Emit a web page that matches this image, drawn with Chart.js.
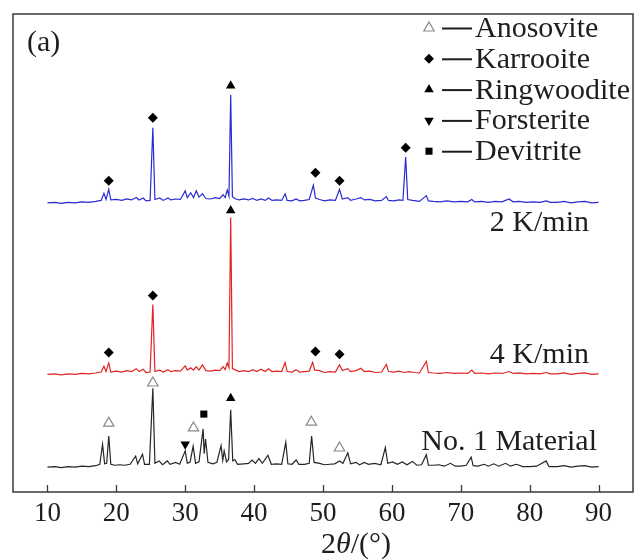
<!DOCTYPE html>
<html>
<head>
<meta charset="utf-8">
<script src="https://cdn.jsdelivr.net/npm/chart.js@4.4.1/dist/chart.umd.min.js"></script>
<style>
html,body{margin:0;padding:0;background:#fff;}
canvas{display:block;}
</style>
</head>
<body>
<canvas id="c" width="634" height="560"></canvas>
<script>
// ---- data (2θ in degrees, intensity in arbitrary offset units) ----
const xTicks = [10, 20, 30, 40, 50, 60, 70, 80, 90];

const patternNo1 = [[10,5.2],[11,5.3],[12,5.1],[13,5.3],[14,5.2],[15,5.4],[16,5.3],[17,5.5],[17.6,5.8],[18.0,10.0],[18.3,5.9],[18.6,6.0],[18.9,11.7],[19.2,5.8],[19.8,5.6],[20.5,5.7],[21.2,5.6],[22,5.8],[22.8,7.5],[23.1,5.9],[23.8,7.9],[24.1,5.8],[24.8,5.8],[25.3,21.7],[25.6,6.0],[26.2,6.5],[26.7,5.7],[27.4,6.5],[27.8,5.8],[28.6,6.2],[29.2,5.8],[30.0,8.6],[30.3,6.0],[30.7,6.2],[31.15,9.6],[31.5,6.0],[32.0,6.3],[32.6,13.2],[32.75,8],[32.95,11.1],[33.3,6.2],[34.0,5.9],[34.6,6.2],[35.2,9.7],[35.45,6.6],[35.65,8.6],[36.0,6.3],[36.3,6.8],[36.6,17.2],[36.9,6.5],[37.2,6.8],[37.6,5.8],[38.5,5.9],[39.2,6.0],[39.7,6.7],[40.2,6.0],[40.7,7.0],[41.2,6.0],[42.0,7.7],[42.5,5.8],[43.3,5.9],[44.0,5.8],[44.6,10.4],[44.9,5.9],[45.5,5.8],[46.1,6.7],[46.5,5.8],[47.3,5.8],[48.0,6.0],[48.35,11.7],[48.7,6.2],[49.5,6.0],[50.2,5.7],[51,5.8],[51.7,5.9],[52.4,6.5],[52.9,6.0],[53.6,8.2],[54.0,5.9],[54.8,6.2],[55.3,5.7],[56.0,6.2],[56.6,5.8],[57.5,6.0],[58.4,5.7],[59.05,9.3],[59.4,6.0],[60.1,6.3],[60.8,5.8],[61.5,6.3],[62.2,5.7],[63.0,6.4],[63.6,5.6],[64.3,5.7],[65.0,7.8],[65.3,5.6],[66,5.6],[66.8,5.7],[67.6,5.4],[68.5,6.0],[69.2,5.4],[70,5.4],[70.8,5.6],[71.5,7.3],[71.8,5.5],[72.5,5.4],[73.4,5.8],[74,5.4],[74.8,5.9],[75.5,5.4],[76.5,6.0],[77.2,5.4],[78.1,5.8],[79,5.3],[80,5.3],[81,5.4],[82.4,6.5],[82.8,5.3],[84,5.3],[85,5.5],[86,5.2],[87,5.4],[88,5.5],[89,5.2],[90,5.3]];

const pattern4K = [[10,24.6],[11,24.7],[12,24.5],[13,24.7],[14,24.6],[15,24.8],[16,24.7],[17,24.9],[17.8,25.1],[18.2,26.3],[18.5,25.2],[18.9,27.0],[19.2,25.1],[20,25.3],[20.8,25.1],[21.5,25.4],[22.2,25.2],[22.9,25.8],[23.3,25.2],[23.9,25.7],[24.3,25.0],[24.9,25.1],[25.3,39.2],[25.6,25.2],[26.3,25.5],[26.8,25.1],[27.5,25.6],[27.9,25.2],[28.6,25.4],[29.3,25.3],[30.0,26.4],[30.3,25.5],[30.8,26.0],[31.2,25.5],[31.6,26.2],[32.0,25.5],[32.5,26.6],[33.0,25.4],[33.7,25.3],[34.4,25.5],[35.0,25.4],[35.5,26.2],[35.8,25.6],[36.1,27.0],[36.35,26.0],[36.6,57.4],[36.85,25.8],[37.2,25.6],[37.8,25.2],[38.5,25.4],[39.2,25.2],[39.8,25.6],[40.4,25.2],[41.0,25.7],[41.6,25.2],[42.1,25.8],[42.6,25.2],[43.3,25.3],[44.0,25.2],[44.5,27.1],[44.8,25.2],[45.5,25.1],[46.1,25.6],[46.6,25.1],[47.3,25.2],[48.0,25.3],[48.5,27.1],[48.8,25.5],[49.5,25.4],[50.2,25.0],[51.0,25.2],[51.8,25.1],[52.4,26.6],[52.8,25.4],[53.6,25.8],[54.0,25.2],[54.8,25.4],[55.5,25.9],[56.0,25.2],[56.8,25.3],[57.6,25.0],[58.5,25.1],[59.2,26.7],[59.5,25.2],[60.3,25.1],[61.0,25.3],[61.8,25.0],[62.5,25.2],[63.2,25.0],[64.0,24.9],[65.0,27.3],[65.3,25.0],[66,24.9],[67,24.8],[68,25.0],[69,24.8],[70,24.9],[71,24.8],[71.6,25.5],[72,24.8],[73,24.9],[74,24.7],[75,24.9],[76,24.8],[77,25.2],[77.6,24.8],[78.5,24.9],[79.5,24.7],[80.5,24.8],[81.5,24.7],[82.4,25.0],[83,24.7],[84,24.7],[85,24.9],[86,24.6],[87,24.8],[88,24.9],[89,24.6],[90,24.7]];

const pattern2K = [[10,60.5],[11,60.6],[12,60.4],[13,60.6],[14,60.5],[15,60.7],[16,60.6],[17,60.8],[17.8,61.0],[18.2,62.5],[18.5,61.2],[18.9,63.3],[19.2,61.1],[20,61.2],[20.8,61.0],[21.5,61.3],[22.2,61.1],[22.9,61.6],[23.3,61.1],[23.9,61.5],[24.3,60.9],[24.9,61.0],[25.3,76.2],[25.6,61.2],[26.3,61.5],[26.8,61.0],[27.5,61.5],[27.9,61.1],[28.6,61.3],[29.3,61.2],[30.0,63.0],[30.3,61.6],[30.8,62.6],[31.2,61.6],[31.6,63.0],[32.0,61.7],[32.5,62.4],[33.0,61.4],[33.7,61.3],[34.4,61.6],[35.0,61.4],[35.5,62.2],[35.8,61.6],[36.1,63.2],[36.35,61.9],[36.6,83.1],[36.85,61.8],[37.2,61.4],[37.8,61.1],[38.5,61.3],[39.2,61.1],[39.8,61.4],[40.4,61.0],[41.0,61.3],[41.6,61.0],[42.1,61.5],[42.6,61.0],[43.3,61.1],[44.0,61.0],[44.5,62.4],[44.8,61.0],[45.5,60.9],[46.1,61.3],[46.6,60.9],[47.3,61.0],[48.0,61.2],[48.6,64.2],[48.9,61.5],[49.5,61.2],[50.2,60.9],[51.0,61.1],[51.8,61.0],[52.4,63.3],[52.8,61.3],[53.6,61.6],[54.0,61.0],[54.8,61.3],[55.5,61.6],[56.0,61.1],[56.8,61.2],[57.6,60.9],[58.5,61.0],[59.2,61.8],[59.5,61.0],[60.3,60.9],[61.0,61.1],[61.6,61.0],[62.0,70.1],[62.3,61.2],[63.0,61.0],[64.0,60.8],[65.0,62.0],[65.3,60.9],[66,60.8],[67,60.7],[68,60.9],[69,60.7],[70,60.8],[71,60.7],[71.6,61.2],[72,60.7],[73,60.8],[74,60.6],[75,60.8],[76,60.7],[77,61.3],[77.6,60.7],[78.5,60.8],[79.5,60.6],[80.5,60.7],[81.5,60.6],[82.4,60.9],[83,60.6],[84,60.6],[85,60.8],[86,60.5],[87,60.7],[88,60.8],[89,60.5],[90,60.6]];

// phase markers [2θ, height]
const karrooiteMarks   = [[18.9,65.1],[25.3,78.3],[48.9,66.8],[52.4,65.1],[62.0,72.0],[18.9,29.2],[25.3,41.1],[48.9,29.4],[52.4,28.8]];
const ringwooditeMarks = [[36.6,85.0],[36.6,58.9],[36.6,19.6]];
const anosoviteMarks   = [[18.9,14.4],[25.3,22.8],[31.2,13.4],[48.3,14.6],[52.4,9.2]];
const forsteriteMarks  = [[30.0,10.0]];
const devitriteMarks   = [[32.7,16.3]];

const phaseNames  = ['Anosovite', 'Karrooite', 'Ringwoodite', 'Forsterite', 'Devitrite'];
const seriesNames = ['2 K/min', '4 K/min', 'No. 1 Material'];

const toXY = a => a.map(p => ({x: p[0], y: p[1]}));

const SERIF = '"Liberation Serif", "Times New Roman", serif';
const INK = '#1e1e1e';

const markerStyles = {
  Anosovite:   {pointStyle: 'triangle', radius: 6,  rotation: 0,   fill: '#ffffff', stroke: '#8a8a8a', bw: 1.2},
  Karrooite:   {pointStyle: 'rectRot',  radius: 5,  rotation: 0,   fill: '#000000', stroke: '#000000', bw: 0},
  Ringwoodite: {pointStyle: 'triangle', radius: 5.5,rotation: 0,   fill: '#000000', stroke: '#000000', bw: 0},
  Forsterite:  {pointStyle: 'triangle', radius: 5.5,rotation: 180, fill: '#000000', stroke: '#000000', bw: 0},
  Devitrite:   {pointStyle: 'rect',     radius: 5,  rotation: 0,   fill: '#000000', stroke: '#000000', bw: 0}
};

function markerDataset(name, arr) {
  const s = markerStyles[name];
  return {
    type: 'scatter', label: name, data: toXY(arr), showLine: false,
    pointStyle: s.pointStyle, pointRadius: s.radius, pointRotation: s.rotation,
    pointBackgroundColor: s.fill, pointBorderColor: s.stroke, pointBorderWidth: s.bw,
    order: 0
  };
}

const decor = {
  id: 'decor',
  afterDraw(chart) {
    const ctx = chart.ctx, a = chart.chartArea, xs = chart.scales.x;
    ctx.save();
    // frame
    ctx.strokeStyle = '#3a3a3a';
    ctx.lineWidth = 1.5;
    ctx.strokeRect(a.left, a.top, a.right - a.left, a.bottom - a.top);
    // inward ticks on bottom axis
    ctx.lineWidth = 1.3;
    ctx.beginPath();
    xTicks.forEach(v => {
      const px = Math.round(xs.getPixelForValue(v)) + 0.5;
      ctx.moveTo(px, a.bottom);
      ctx.lineTo(px, a.bottom - 7);
    });
    ctx.stroke();

    ctx.fillStyle = INK;
    ctx.textBaseline = 'alphabetic';
    ctx.font = '30px ' + SERIF;
    // panel label
    ctx.textAlign = 'left';
    ctx.fillText('(a)', 27, 51);
    // series labels
    ctx.textAlign = 'right';
    ctx.fillText(seriesNames[0], 589, 231);
    ctx.fillText(seriesNames[1], 589, 363);
    ctx.fillText(seriesNames[2], 597, 450);

    // legend
    phaseNames.forEach((name, i) => {
      const base = 37 + i * 30.8;
      const cy = base - 9;
      const s = markerStyles[name];
      ctx.fillStyle = s.fill;
      ctx.strokeStyle = s.stroke;
      ctx.lineWidth = s.bw;
      Chart.helpers.drawPoint(ctx, {pointStyle: s.pointStyle, radius: s.radius, rotation: s.rotation, borderWidth: s.bw}, 429, cy);
      ctx.strokeStyle = INK;
      ctx.lineWidth = 2;
      ctx.beginPath();
      ctx.moveTo(442, cy + 0.5);
      ctx.lineTo(472, cy + 0.5);
      ctx.stroke();
      ctx.fillStyle = INK;
      ctx.textAlign = 'left';
      ctx.font = '30px ' + SERIF;
      ctx.fillText(name, 475, base);
    });

    // axis title 2θ/(°)
    const parts = [['2', 'normal'], ['θ', 'italic'], ['/(°)', 'normal']];
    let total = 0;
    parts.forEach(p => { ctx.font = p[1] + ' 30px ' + SERIF; total += ctx.measureText(p[0]).width; });
    let x = 356 - total / 2;
    ctx.textAlign = 'left';
    ctx.fillStyle = INK;
    parts.forEach(p => {
      ctx.font = p[1] + ' 30px ' + SERIF;
      ctx.fillText(p[0], x, 553);
      x += ctx.measureText(p[0]).width;
    });
    ctx.restore();
  }
};

new Chart(document.getElementById('c'), {
  type: 'line',
  data: {
    datasets: [
      {label: seriesNames[0], data: toXY(pattern2K), borderColor: '#2a2ad2', borderWidth: 1.2, pointRadius: 0, tension: 0, order: 1},
      {label: seriesNames[1], data: toXY(pattern4K), borderColor: '#e02424', borderWidth: 1.2, pointRadius: 0, tension: 0, order: 1},
      {label: seriesNames[2], data: toXY(patternNo1), borderColor: '#262626', borderWidth: 1.2, pointRadius: 0, tension: 0, order: 1},
      markerDataset('Karrooite', karrooiteMarks),
      markerDataset('Ringwoodite', ringwooditeMarks),
      markerDataset('Anosovite', anosoviteMarks),
      markerDataset('Forsterite', forsteriteMarks),
      markerDataset('Devitrite', devitriteMarks)
    ]
  },
  options: {
    responsive: false,
    devicePixelRatio: 1,
    animation: false,
    layout: {autoPadding: false, padding: {left: 13, right: 1, top: 14, bottom: 0}},
    plugins: {legend: {display: false}, tooltip: {enabled: false}},
    scales: {
      x: {
        type: 'linear', min: 5, max: 95,
        afterBuildTicks: s => { s.ticks = xTicks.map(v => ({value: v})); },
        afterFit: s => { s.height = 68; s.paddingLeft = 0; s.paddingRight = 0; },
        grid: {display: false, drawTicks: false},
        border: {display: false},
        ticks: {font: {family: SERIF, size: 27}, color: INK, padding: 6, maxRotation: 0, autoSkip: false}
      },
      y: {type: 'linear', min: 0, max: 100, display: false}
    }
  },
  plugins: [decor]
});
</script>
</body>
</html>
